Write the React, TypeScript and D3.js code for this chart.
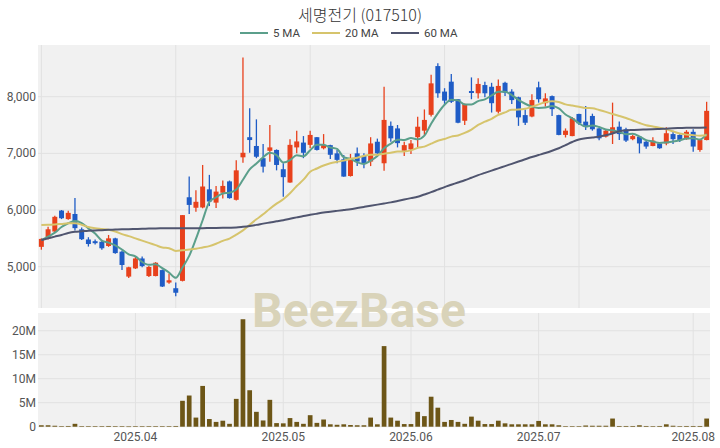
import React from "react";
import * as d3 from "d3";

const title = "세명전기 (017510)";
const legendNames = ["5 MA", "20 MA", "60 MA"];
const maColors = ["#5b9f8b", "#d6c46c", "#50556f"];

const opens = [5350,5500,5620,5990,5840,5930,5660,5480,5450,5440,5365,5500,5265,4825,4970,5145,4835,4835,4940,4720,
4620,4750,6225,6040,6045,6365,6130,6305,6505,6180,6930,7285,7130,6915,7045,7060,6720,6485,7105,7190,
7150,7285,7090,7145,7000,6895,6600,7000,6955,6855,7205,6825,7485,7440,7045,7070,7285,7400,7680,8540,
8090,8265,7955,7575,8100,8060,8205,8175,7735,8245,8090,7990,7675,7650,8165,7885,8010,7675,7325,7305,
7695,7560,7660,7440,7295,7355,7470,7425,7250,7295,7205,7130,7175,7175,7340,7325,7250,7380,7060,7235];
const highs = [5500,5705,5900,6000,5985,6210,5690,5520,5480,5460,5560,5510,5280,5000,5180,5180,5010,5080,4950,4880,
4720,5910,6590,6350,6795,6620,6425,6520,6520,6880,8690,7795,7600,7165,7500,7070,6825,7250,7400,7305,
7400,7290,7340,7150,7060,6970,6990,7105,7000,7285,7260,8175,7560,7500,7205,7235,7645,7775,8385,8590,
8150,8400,7960,7880,8340,8325,8265,8245,8305,8265,8130,8000,7775,8045,8265,8060,8020,7680,7440,7640,
7700,7835,7700,7450,7420,7895,7560,7450,7330,7300,7220,7285,7190,7460,7400,7335,7410,7425,7240,7910];
const lows = [5300,5480,5600,5840,5830,5640,5470,5355,5390,5300,5350,5230,4940,4800,4960,4990,4820,4830,4640,4700,
4480,4740,5930,5970,6030,6070,6035,6205,6200,6170,6835,7010,6915,6660,6850,6700,6235,6480,7000,6915,
7090,7050,7070,6900,6825,6585,6590,6775,6735,6775,6950,6695,7205,7105,6955,6990,7105,7325,7650,7980,
7850,7890,7530,7500,7955,7970,7990,7720,7705,8010,7870,7485,7500,7635,7895,7825,7660,7320,7280,7300,
7500,7410,7400,7230,7280,7165,7235,7200,7230,7000,7080,7125,7080,7145,7165,7200,7240,7030,7030,7230];
const closes = [5490,5660,5880,5855,5950,5680,5485,5400,5415,5325,5500,5240,5030,4990,5145,5010,4995,5070,4650,4760,
4540,5910,6090,6145,6415,6150,6325,6425,6210,6700,7010,7235,6940,6765,7105,6795,6580,7150,7210,7010,
7325,7060,7145,6975,6885,6590,6913,6855,6825,7175,7000,7590,7265,7180,7145,7175,7470,7590,8235,8060,
7930,7910,7540,7870,8065,8225,8060,7885,8190,8070,7940,7635,7540,7940,7955,7970,7780,7325,7400,7620,
7530,7485,7425,7265,7400,7460,7340,7225,7305,7175,7120,7225,7090,7355,7250,7235,7380,7120,7235,7750];
// volume in millions of shares
const volumes = [0.3,0.3,0.2,0.1,0.15,0.6,0.1,0.08,0.08,0.1,0.15,0.1,0.1,0.05,0.08,0.06,0.08,0.1,0.1,0.08,
0.15,5.4,6.5,1.9,8.5,1.6,1.0,1.25,0.6,5.8,22.4,7.6,3.1,1.3,5.6,0.75,0.7,1.8,1.0,0.6,
2.4,0.8,1.5,0.5,0.4,0.5,0.35,0.3,0.3,1.9,0.5,16.8,1.9,1.25,0.55,0.55,3.1,2.2,6.25,3.96,
1.0,1.4,1.0,0.6,2.1,1.25,0.55,0.55,1.25,0.7,0.5,0.5,0.5,0.5,1.2,0.5,0.5,0.3,0.1,0.1,
0.1,0.25,0.2,0.2,0.2,1.7,0.15,0.15,0.15,0.3,0.15,0.1,0.15,0.5,0.2,0.1,0.15,0.15,0.15,1.7];
// moving-average values at the start of the window (history before the first candle)
const ma5Lead = [5470,5530,5600,5700];
const ma20Lead = [5735,5740,5745,5755,5765,5765,5740,5700,5680,5665,5650,5620,5575,5540,5500,5460,5420,5380,5340];
const ma60 = [5470,5500,5530,5560,5595,5615,5625,5635,5640,5645,5650,5655,5660,5662,5665,5668,5672,5675,5677,5679,
5680,5680,5680,5680,5680,5682,5684,5686,5688,5692,5705,5720,5738,5760,5780,5800,5820,5845,5870,5895,
5915,5935,5955,5970,5985,6000,6015,6035,6055,6075,6095,6115,6135,6160,6185,6210,6235,6275,6315,6360,
6405,6445,6485,6525,6570,6615,6655,6695,6735,6775,6815,6855,6895,6935,6970,7005,7045,7090,7145,7200,
7245,7265,7280,7295,7320,7350,7390,7405,7412,7418,7420,7424,7430,7436,7442,7447,7452,7453,7453,7455];

const priceTicks = [5000, 6000, 7000, 8000];
const volTicks = [0, 5, 10, 15, 20];
const volTickLabels = ["0", "5M", "10M", "15M", "20M"];
const monthLabels = ["2025.04", "2025.05", "2025.06", "2025.07", "2025.08"];
const monthIndex = [14, 36, 55, 74, 97];
const priceGridIndex = [0, 20, 40, 60, 80];

const W = 720, H = 448;
const L = 38, R = 710;
const pTop = 45, pBot = 308;
const vTop = 313, vBot = 427;

export default function App() {
  const idx = d3.range(closes.length);
  const x = d3.scaleBand<number>().domain(idx).range([L, R]).padding(0);
  const bw = x.bandwidth();
  const cx = (i: number) => (x(i) as number) + bw / 2;
  const y = d3.scaleLinear().domain([4271, 8912]).range([pBot, pTop]);
  const yv = d3.scaleLinear().domain([0, 23.7]).range([426.7, vTop]);

  const ma5 = closes.map((_, i) => (i < 4 ? ma5Lead[i] : (d3.mean(closes.slice(i - 4, i + 1)) as number)));
  const ma20 = closes.map((_, i) => (i < 19 ? ma20Lead[i] : (d3.mean(closes.slice(i - 19, i + 1)) as number)));
  const line = d3.line<number>().x((_, i) => cx(i)).y((d) => y(d)).curve(d3.curveMonotoneX);
  const maSeries = [ma5, ma20, ma60];

  const font = "Roboto, 'Noto Sans', sans-serif";
  const bodyW = bw * 0.74;
  const volW = bw * 0.7;
  const up = "#e8411c";
  const down = "#1f5cc6";
  const legendX = [240, 312, 391];

  return (
    <svg width={W} height={H} style={{ position: "absolute", left: 0, top: 0, background: "#fff" }}>
      <text x={360} y={21} textAnchor="middle" fontSize={16} fill="#333" fontFamily="'Noto Sans CJK KR', 'Noto Sans', sans-serif" fontWeight={300}>{title}</text>
      {legendNames.map((n, k) => (
        <g key={n}>
          <line x1={legendX[k]} x2={legendX[k] + 28} y1={33} y2={33} stroke={maColors[k]} strokeWidth={2} />
          <text x={legendX[k] + 33} y={37} fontSize={11.5} fill="#444" fontFamily={font}>{n}</text>
        </g>
      ))}
      <rect x={L} y={pTop} width={R - L} height={pBot - pTop} fill="#f1f1f1" />
      <rect x={L} y={vTop} width={R - L} height={vBot - vTop} fill="#f1f1f1" />
      {priceTicks.map((t) => (
        <line key={t} x1={L} x2={R} y1={y(t)} y2={y(t)} stroke="#e1e1e1" strokeWidth={1} />
      ))}
      {priceGridIndex.map((i) => (
        <line key={i} x1={cx(i)} x2={cx(i)} y1={pTop} y2={pBot} stroke="#e1e1e1" strokeWidth={1} />
      ))}
      {volTicks.map((t) => (
        <line key={t} x1={L} x2={R} y1={yv(t)} y2={yv(t)} stroke="#e1e1e1" strokeWidth={1} />
      ))}
      {monthIndex.map((i) => (
        <line key={i} x1={cx(i)} x2={cx(i)} y1={vTop} y2={vBot} stroke="#e1e1e1" strokeWidth={1} />
      ))}
      <text x={359} y={327} textAnchor="middle" fontSize={48} fontWeight="bold" fill="#d9d3b9" fontFamily={font}>BeezBase</text>
      {priceTicks.map((t) => (
        <text key={t} x={36} y={y(t) + 4} textAnchor="end" fontSize={12} fill="#555" fontFamily={font}>{d3.format(",")(t)}</text>
      ))}
      {volTicks.map((t, k) => (
        <text key={t} x={36} y={yv(t) + 4} textAnchor="end" fontSize={12} fill="#555" fontFamily={font}>{volTickLabels[k]}</text>
      ))}
      {monthIndex.map((i, k) => (
        <text key={i} x={cx(i)} y={441} textAnchor="middle" fontSize={12} fill="#555" fontFamily={font}>{monthLabels[k]}</text>
      ))}
      {idx.map((i) => {
        const o = opens[i], c = closes[i];
        const col = c >= o ? up : down;
        const top = y(Math.max(o, c));
        const bot = y(Math.min(o, c));
        return (
          <g key={i}>
            <line x1={cx(i)} x2={cx(i)} y1={y(highs[i])} y2={y(lows[i])} stroke={col} strokeWidth={1.3} />
            <rect x={cx(i) - bodyW / 2} y={top} width={bodyW} height={Math.max(1.5, bot - top)} fill={col} />
          </g>
        );
      })}
      {maSeries.map((s, k) => (
        <path key={k} d={line(s) as string} fill="none" stroke={maColors[k]} strokeWidth={2} />
      ))}
      {idx.map((i) => (
        <rect key={i} x={cx(i) - volW / 2} y={yv(volumes[i])} width={volW} height={Math.max(0.6, yv(0) - yv(volumes[i]))} fill="#6d5617" />
      ))}
    </svg>
  );
}
